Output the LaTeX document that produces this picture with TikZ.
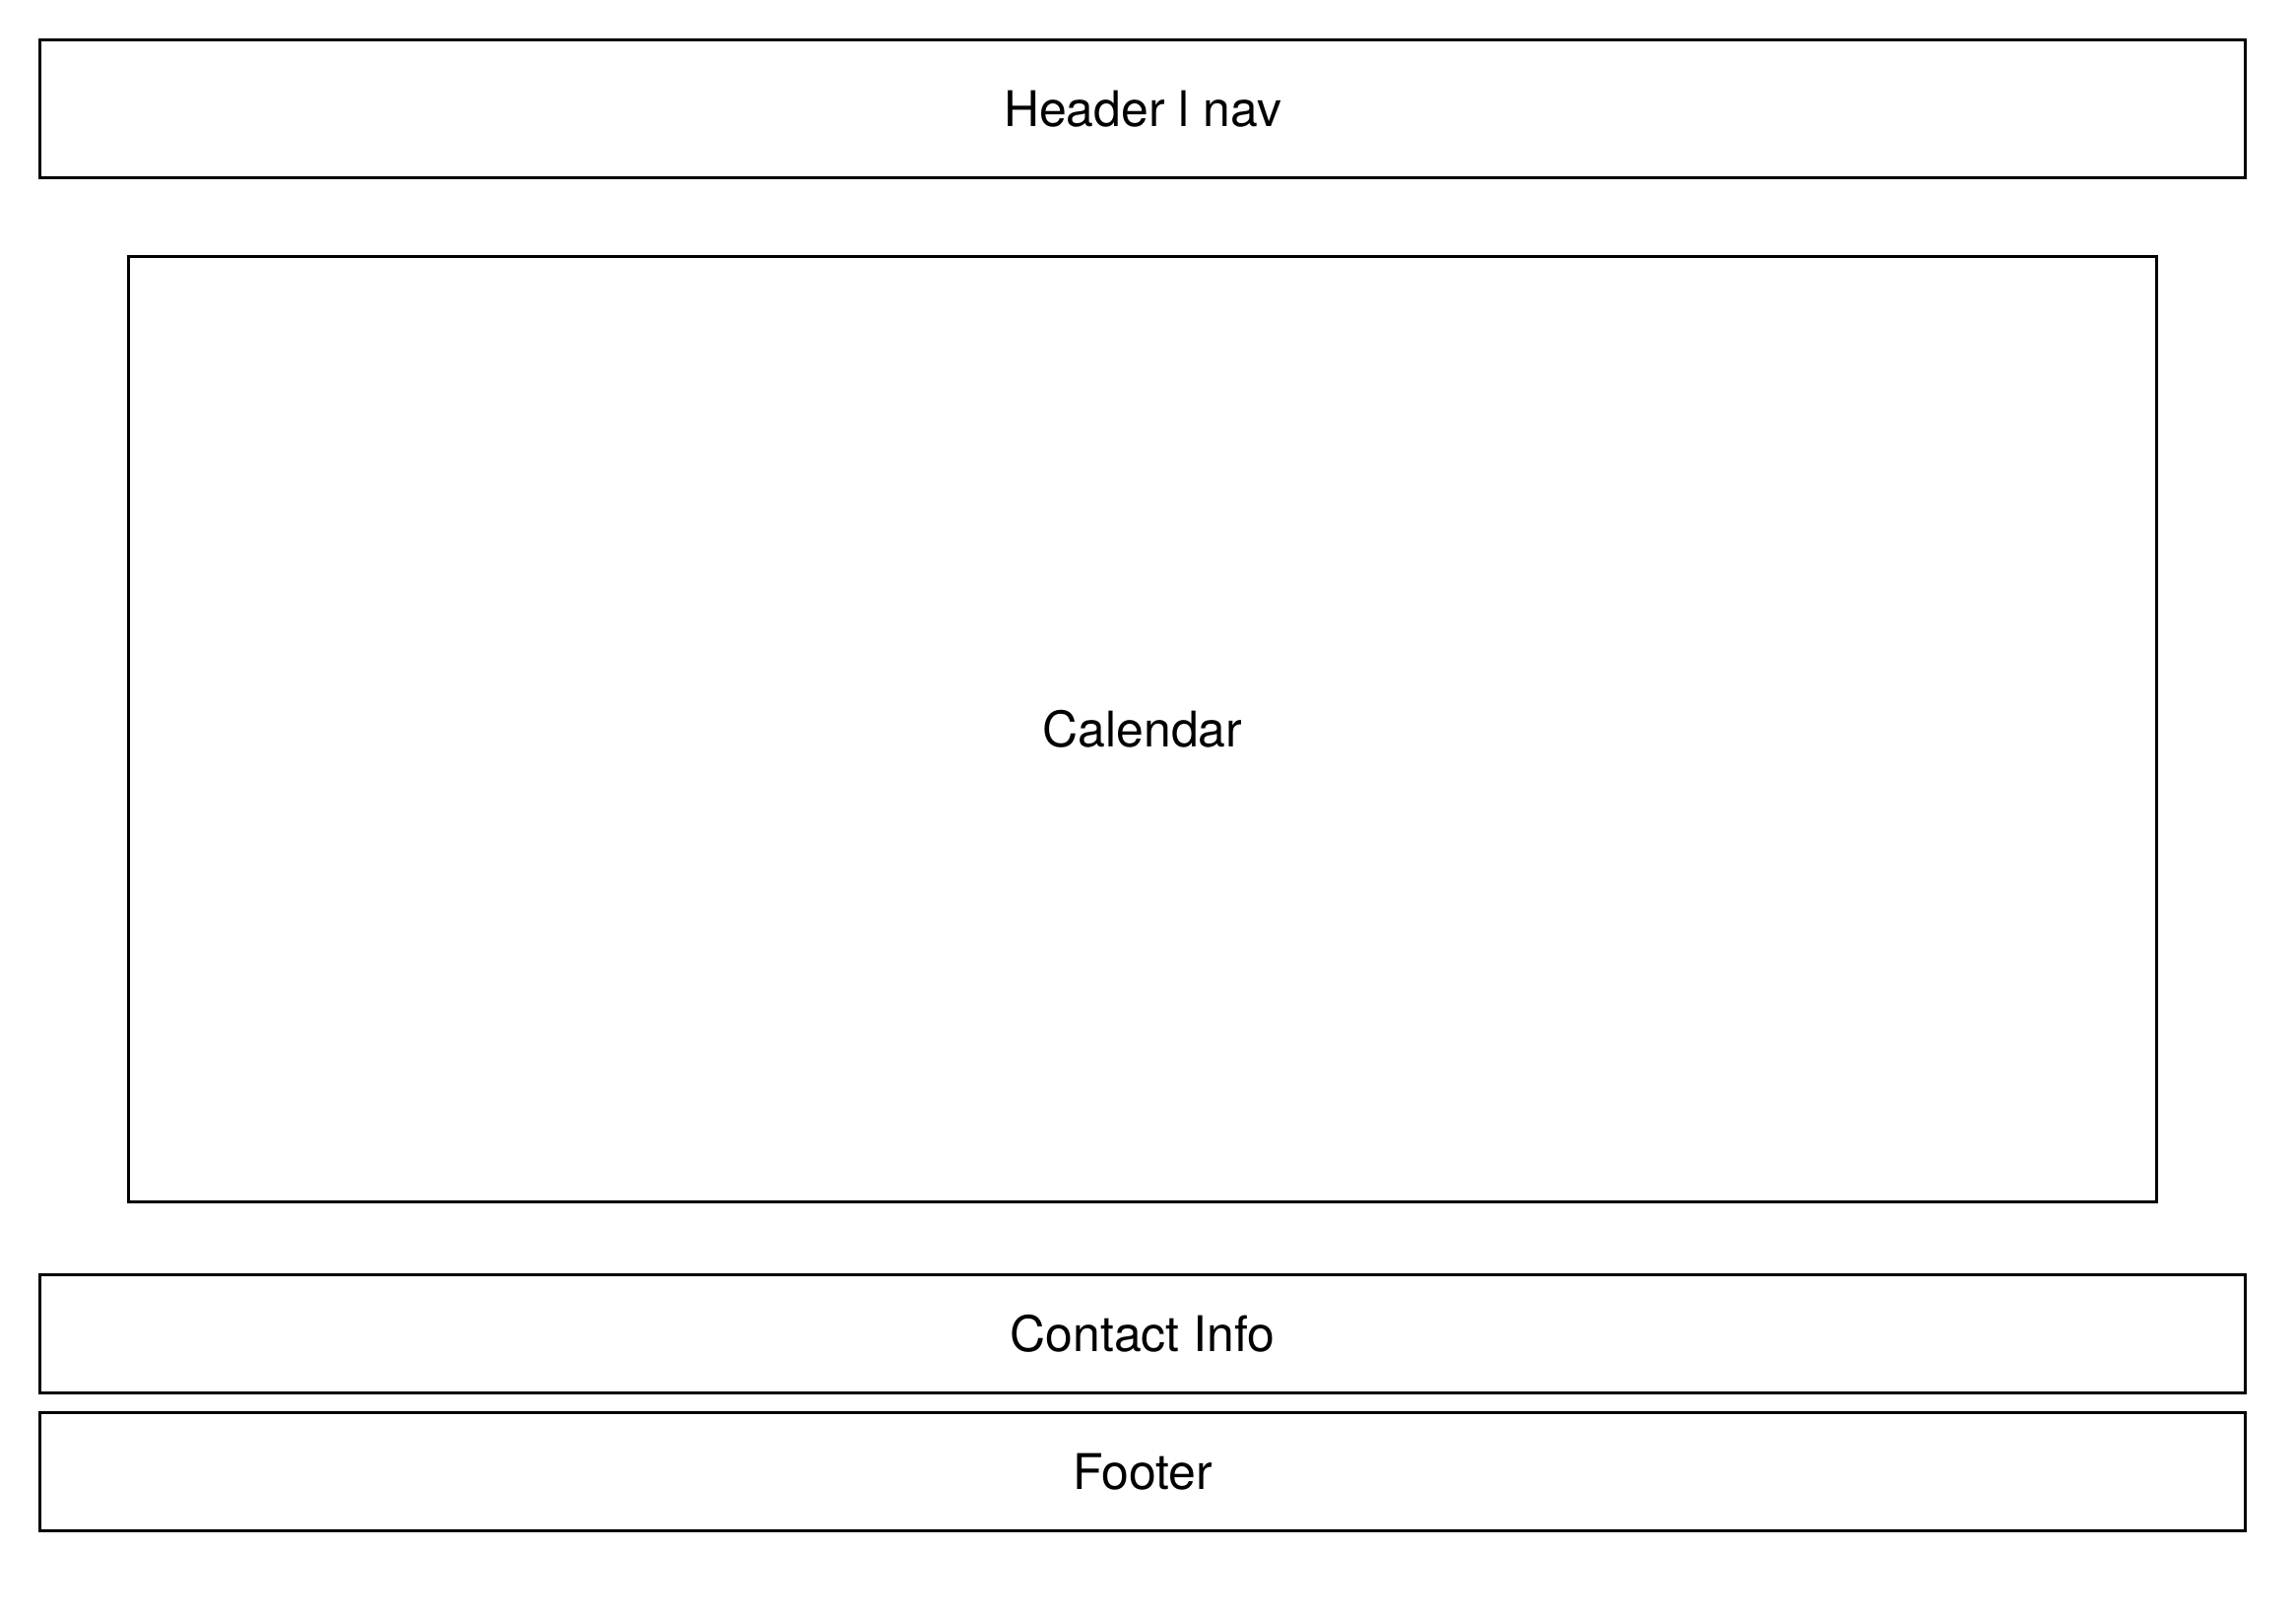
\documentclass[tikz,border=0pt]{standalone}
\usepackage{fontspec}
\setmainfont{TeX Gyre Heros}
\usepackage{tikz}
\usetikzlibrary{positioning}

\tikzset{
  block/.style={draw, line width=0.6pt, outer sep=0pt, inner sep=0pt,
    minimum width=22.39cm, font=\fontsize{14.2}{17}\selectfont},
}

\begin{document}
\begin{tikzpicture}[auto,node distance=0,on grid=false]
    \useasboundingbox (0,0) rectangle (23.31,-16.39);
    % Place nodes
    \node [block, minimum height=1.40cm] (header) at (11.60,-1.105) {Header l nav};
    \node [block, below=0.80cm of header, minimum width=20.59cm, minimum height=9.60cm] (calendar) {Calendar};
    \node [block, below=0.74cm of calendar, minimum height=1.20cm] (contact) {Contact Info};
    \node [block, below=0.20cm of contact, minimum height=1.20cm] (footer) {Footer};

\end{tikzpicture}
\end{document}
